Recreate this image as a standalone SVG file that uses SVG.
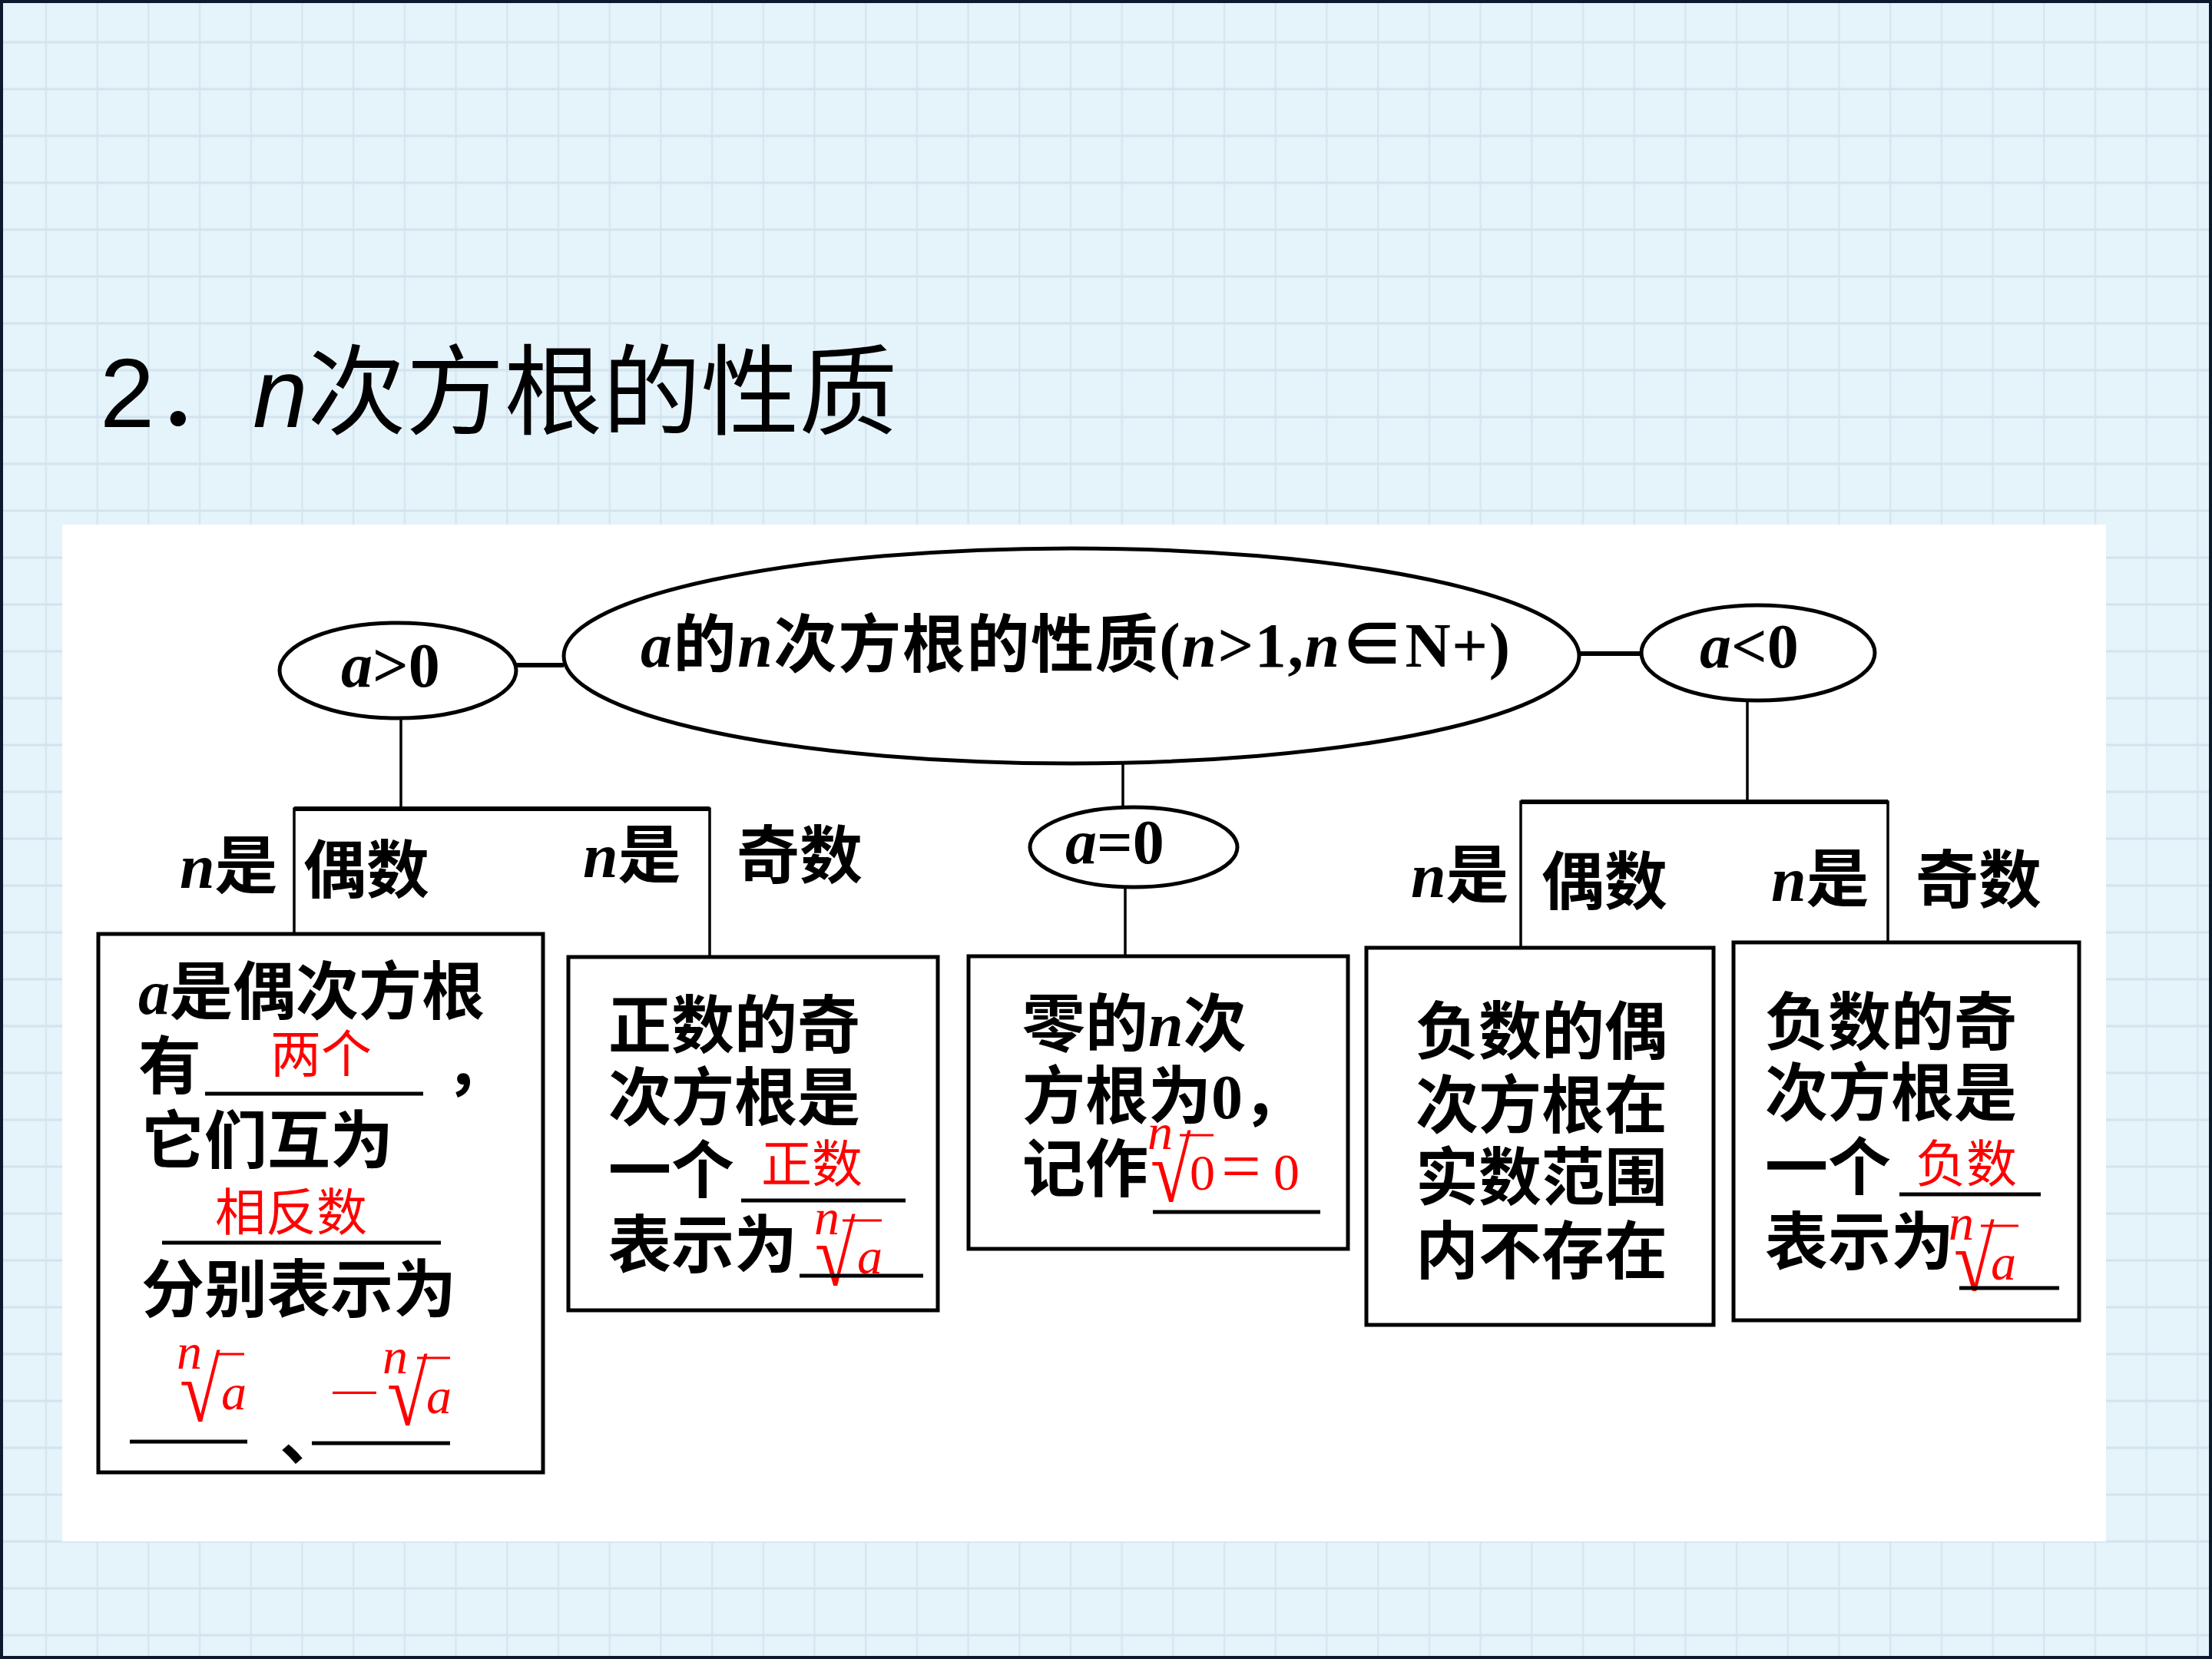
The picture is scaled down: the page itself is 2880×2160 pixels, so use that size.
<svg xmlns="http://www.w3.org/2000/svg" width="2880" height="2160" viewBox="0 0 2880 2160">
<defs>
<pattern id="grid" x="0" y="0" width="66.7" height="61" patternUnits="userSpaceOnUse">
<rect width="66.7" height="61" fill="#e5f3fb"/>
<line x1="60" y1="0" x2="60" y2="61" stroke="#d2e4ee" stroke-width="2"/>
<line x1="0" y1="55" x2="66.7" y2="55" stroke="#d2e4ee" stroke-width="3"/>
</pattern>
<style>
.k{font-family:"Liberation Serif","Noto Sans CJK SC",serif;font-weight:bold;font-size:82px;fill:#000}
.r{font-family:"Liberation Serif","Noto Sans CJK SC",serif;font-size:66px;fill:#f00}
.i{font-style:italic}
.rad{font-family:"Liberation Serif","DejaVu Serif",serif;font-size:96px;fill:#f00}
.vin{stroke:#f00;stroke-width:3}
.ul{stroke:#000;stroke-width:5}
.shape{fill:#fff;stroke:#000;stroke-width:5}
.thick{stroke:#000;stroke-width:6;fill:none}
.thin{stroke:#000;stroke-width:3.5;fill:none}
.title{font-family:"Liberation Sans","Noto Sans CJK SC",sans-serif;font-size:128px;fill:#000}
</style>
</defs>
<rect x="0" y="0" width="2880" height="2160" fill="url(#grid)"/>
<rect x="2" y="2" width="2876" height="2156" fill="none" stroke="#0d1a2e" stroke-width="4"/>
<text class="title" x="130" y="556">2．<tspan font-style="italic">n</tspan>次方根的性质</text>
<rect x="81" y="683" width="2661" height="1324" fill="#fff"/>

<g id="connectors">
<line class="thick" x1="672" y1="866" x2="734" y2="866"/>
<line class="thick" x1="2056" y1="851" x2="2137" y2="851"/>
<line class="thin" x1="522" y1="935" x2="522" y2="1053"/>
<polyline class="thin" points="383,1216 383,1053 924,1053 924,1246"/>
<line class="thick" x1="383" y1="1053" x2="924" y2="1053"/>
<line class="thin" x1="1462" y1="994" x2="1462" y2="1051"/>
<line class="thin" x1="1465" y1="1155" x2="1465" y2="1245"/>
<line class="thin" x1="2275" y1="912" x2="2275" y2="1044"/>
<polyline class="thin" points="1980,1234 1980,1044 2458,1044 2458,1227"/>
<line class="thick" x1="1980" y1="1044" x2="2458" y2="1044"/>
</g>

<g id="root">
<ellipse class="shape" cx="1395" cy="854" rx="661" ry="140"/>
<text class="k" x="834" y="868" font-size="78" textLength="1132" lengthAdjust="spacing"><tspan class="i">a</tspan>的<tspan class="i">n</tspan>次方根的性质(<tspan class="i">n</tspan>&gt;1,<tspan class="i">n</tspan>∈N+)</text>
</g>

<g id="a-pos">
<ellipse class="shape" cx="518" cy="873" rx="154" ry="62"/>
<text class="k" x="444" y="894" font-size="80"><tspan class="i">a</tspan>&gt;0</text>
</g>

<g id="a-neg">
<ellipse class="shape" cx="2289" cy="850" rx="152" ry="62"/>
<text class="k" x="2213" y="869" font-size="80"><tspan class="i">a</tspan>&lt;0</text>
</g>

<g id="a-zero">
<ellipse class="shape" cx="1476" cy="1103" rx="135" ry="52"/>
<text class="k" x="1387" y="1124" font-size="80"><tspan class="i">a</tspan>=0</text>
</g>

<g id="labels">
<text class="k" x="234" y="1156"><tspan class="i">n</tspan>是</text>
<text class="k" x="395" y="1162">偶数</text>
<text class="k" x="759" y="1142"><tspan class="i">n</tspan>是</text>
<text class="k" x="959" y="1143">奇数</text>
<text class="k" x="1837" y="1168"><tspan class="i">n</tspan>是</text>
<text class="k" x="2007" y="1177">偶数</text>
<text class="k" x="2306" y="1173"><tspan class="i">n</tspan>是</text>
<text class="k" x="2494" y="1175">奇数</text>
</g>

<g id="box-pos-even">
<rect class="shape" x="128" y="1216" width="579" height="701"/>
<text class="k" x="180" y="1320"><tspan class="i">a</tspan>是偶次方根</text>
<text class="k" x="180" y="1417">有</text>
<text class="r" x="352" y="1396">两个</text>
<line class="ul" x1="267" y1="1424" x2="551" y2="1424"/>
<text class="k" x="580" y="1417">，</text>
<text class="k" x="184" y="1514">它们互为</text>
<text class="r" x="280" y="1602">相反数</text>
<line class="ul" x1="211" y1="1618" x2="574" y2="1618"/>
<text class="k" x="184" y="1708">分别表示为</text>
<text class="r i" x="230" y="1782" font-size="60">n</text>
<text class="rad" transform="translate(234,1850) scale(1,1.22)">√</text>
<line class="vin" x1="282" y1="1763" x2="318" y2="1763"/>
<text class="r i" x="288" y="1835" font-size="76">a</text>
<text class="r" font-size="96" transform="translate(427,1835) scale(1.85,1)">−</text>
<text class="r i" x="498" y="1788" font-size="60">n</text>
<text class="rad" transform="translate(504,1855) scale(1,1.22)">√</text>
<line class="vin" x1="543" y1="1768" x2="586" y2="1768"/>
<text class="r i" x="555" y="1840" font-size="76">a</text>
<line class="ul" x1="169" y1="1877" x2="322" y2="1877"/>
<text class="k" x="364" y="1900">、</text>
<line class="ul" x1="406" y1="1879" x2="586" y2="1879"/>
</g>

<g id="box-pos-odd">
<rect class="shape" x="740" y="1246" width="481" height="460"/>
<text class="k" x="792" y="1364">正数的奇</text>
<text class="k" x="792" y="1458">次方根是</text>
<text class="k" x="792" y="1553">一个</text>
<text class="r" x="991" y="1539">正数</text>
<line class="ul" x1="965" y1="1563" x2="1179" y2="1563"/>
<text class="k" x="792" y="1650">表示为</text>
<text class="r i" x="1060" y="1607" font-size="60">n</text>
<text class="rad" transform="translate(1061,1673) scale(1,1.22)">√</text>
<line class="vin" x1="1097" y1="1589" x2="1148" y2="1589"/>
<text class="r i" x="1116" y="1658" font-size="76">a</text>
<line class="ul" x1="1041" y1="1661" x2="1202" y2="1661"/>
</g>

<g id="box-zero">
<rect class="shape" x="1261" y="1245" width="494" height="381"/>
<text class="k" x="1331" y="1362">零的<tspan class="i">n</tspan>次</text>
<text class="k" x="1331" y="1456">方根为0，</text>
<text class="k" x="1331" y="1551">记作</text>
<text class="r i" x="1494" y="1496" font-size="60">n</text>
<text class="rad" transform="translate(1498,1564) scale(1,1.22)">√</text>
<line class="vin" x1="1536" y1="1478" x2="1580" y2="1478"/>
<text class="r" x="1549" y="1549" font-size="68">0<tspan x="1590" font-size="92">=</tspan><tspan x="1658" font-size="68">0</tspan></text>
<line class="ul" x1="1501" y1="1578" x2="1719" y2="1578"/>
</g>

<g id="box-neg-even">
<rect class="shape" x="1779" y="1234" width="452" height="491"/>
<text class="k" x="1843" y="1372">负数的偶</text>
<text class="k" x="1843" y="1468">次方根在</text>
<text class="k" x="1843" y="1562">实数范围</text>
<text class="k" x="1843" y="1658">内不存在</text>
</g>

<g id="box-neg-odd">
<rect class="shape" x="2257" y="1227" width="450" height="492"/>
<text class="k" x="2298" y="1360">负数的奇</text>
<text class="k" x="2298" y="1452">次方根是</text>
<text class="k" x="2298" y="1549">一个</text>
<text class="r" x="2494" y="1539">负数</text>
<line class="ul" x1="2473" y1="1555" x2="2657" y2="1555"/>
<text class="k" x="2298" y="1646">表示为</text>
<text class="r i" x="2537" y="1614" font-size="60">n</text>
<text class="rad" transform="translate(2544,1680) scale(1,1.22)">√</text>
<line class="vin" x1="2579" y1="1596" x2="2628" y2="1596"/>
<text class="r i" x="2592" y="1666" font-size="76">a</text>
<line class="ul" x1="2551" y1="1677" x2="2681" y2="1677"/>
</g>
</svg>
